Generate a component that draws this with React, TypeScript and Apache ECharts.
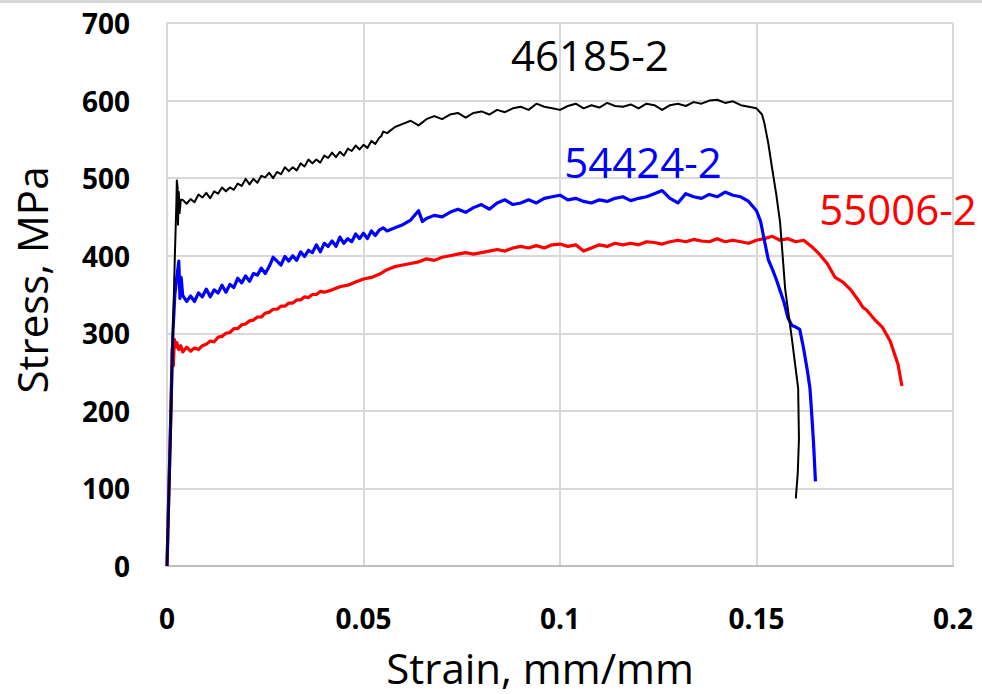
import React, { useEffect, useRef } from "react";
import * as echarts from "echarts";

const xTickLabels = ["0", "0.05", "0.1", "0.15", "0.2"];
const yTickLabels = ["0", "100", "200", "300", "400", "500", "600", "700"];

const seriesNames = ["55006-2", "54424-2", "46185-2"];
const seriesColors = ["#ff0000", "#0000ff", "#000000"];
const seriesWidths = [3.2, 3.2, 2];

// label anchors (strain, stress)
const labelStrain = [0.186, 0.1211, 0.1076];
const labelStress = [461, 521, 659];

const red55006: [number, number][] = [
  [0, 0], [0.0005, 100], [0.001, 200], [0.0013, 280], [0.0016, 258], [0.0019, 292], [0.0022, 282],
  [0.0025, 288], [0.003, 279], [0.0035, 284], [0.004, 276], [0.005, 282], [0.006, 277], [0.007, 281],
  [0.008, 279], [0.009, 284], [0.01, 286], [0.011, 290], [0.012, 289], [0.013, 295], [0.014, 296],
  [0.015, 300], [0.016, 301], [0.017, 306], [0.018, 306], [0.019, 311], [0.02, 312], [0.021, 316],
  [0.022, 317], [0.023, 321], [0.024, 321], [0.025, 326], [0.026, 327], [0.027, 331], [0.028, 331],
  [0.029, 335], [0.03, 335], [0.031, 339], [0.032, 339], [0.033, 343], [0.034, 343], [0.035, 347],
  [0.036, 346], [0.037, 350], [0.038, 350], [0.039, 354], [0.04, 353], [0.042, 356], [0.044, 360],
  [0.046, 362], [0.048, 366], [0.05, 370], [0.052, 372], [0.054, 376], [0.056, 382], [0.058, 386],
  [0.06, 388], [0.062, 390], [0.064, 392], [0.066, 396], [0.068, 394], [0.07, 398], [0.072, 400],
  [0.074, 402], [0.076, 404], [0.078, 402], [0.08, 404], [0.082, 406], [0.084, 408], [0.086, 406],
  [0.088, 410], [0.09, 412], [0.092, 410], [0.094, 413], [0.096, 410], [0.098, 414], [0.1, 415],
  [0.102, 412], [0.104, 414], [0.106, 406], [0.108, 410], [0.11, 414], [0.112, 412], [0.114, 416],
  [0.116, 414], [0.118, 416], [0.12, 414], [0.122, 418], [0.124, 417], [0.126, 415], [0.128, 418],
  [0.13, 420], [0.132, 418], [0.134, 421], [0.136, 419], [0.138, 418], [0.14, 422], [0.142, 418],
  [0.144, 420], [0.146, 418], [0.148, 416], [0.15, 420], [0.152, 422], [0.154, 425], [0.156, 420],
  [0.158, 422], [0.16, 418], [0.162, 420], [0.164, 412], [0.166, 402], [0.168, 390], [0.17, 372],
  [0.172, 366], [0.174, 356], [0.176, 342], [0.177, 334], [0.178, 330], [0.18, 318], [0.182, 308],
  [0.184, 290], [0.186, 260], [0.187, 232],
];

const blue54424: [number, number][] = [
  [0, 0], [0.0005, 100], [0.001, 200], [0.0015, 300], [0.002, 350], [0.0025, 372], [0.003, 393],
  [0.0033, 345], [0.0036, 372], [0.004, 349], [0.005, 341], [0.006, 348], [0.007, 341], [0.008, 352],
  [0.009, 347], [0.01, 357], [0.011, 347], [0.012, 356], [0.013, 352], [0.014, 362], [0.015, 353],
  [0.016, 363], [0.017, 359], [0.018, 371], [0.019, 365], [0.02, 374], [0.021, 367], [0.022, 377],
  [0.023, 375], [0.024, 384], [0.025, 377], [0.026, 386], [0.027, 398], [0.028, 393], [0.029, 388],
  [0.03, 399], [0.031, 393], [0.032, 400], [0.033, 394], [0.034, 405], [0.035, 399], [0.036, 407],
  [0.037, 404], [0.038, 414], [0.039, 405], [0.04, 416], [0.041, 412], [0.042, 419], [0.043, 412],
  [0.044, 424], [0.045, 416], [0.046, 422], [0.047, 418], [0.048, 428], [0.049, 422], [0.05, 429],
  [0.051, 422], [0.052, 432], [0.053, 426], [0.054, 433], [0.055, 436], [0.056, 432], [0.058, 436],
  [0.06, 440], [0.062, 446], [0.064, 458], [0.065, 444], [0.066, 448], [0.068, 452], [0.07, 450],
  [0.072, 456], [0.074, 460], [0.076, 456], [0.078, 462], [0.08, 466], [0.082, 460], [0.084, 468],
  [0.086, 472], [0.088, 466], [0.09, 468], [0.092, 472], [0.094, 468], [0.096, 474], [0.098, 476],
  [0.1, 478], [0.102, 472], [0.104, 474], [0.106, 470], [0.108, 468], [0.11, 472], [0.112, 470],
  [0.114, 474], [0.116, 476], [0.118, 471], [0.12, 474], [0.122, 476], [0.124, 480], [0.126, 484],
  [0.128, 474], [0.13, 468], [0.132, 480], [0.134, 476], [0.136, 474], [0.138, 479], [0.14, 476],
  [0.142, 482], [0.144, 478], [0.146, 476], [0.148, 470], [0.15, 458], [0.151, 445], [0.152, 420],
  [0.153, 395], [0.154, 383], [0.155, 370], [0.156, 355], [0.157, 340], [0.158, 320], [0.159, 310],
  [0.16, 308], [0.161, 305], [0.162, 280], [0.163, 250], [0.1636, 229], [0.164, 200], [0.1645, 160],
  [0.165, 109],
];

const black46185: [number, number][] = [
  [0, 0], [0.0008, 150], [0.0015, 300], [0.002, 400], [0.0024, 470], [0.0025, 497], [0.0027, 488],
  [0.0028, 440], [0.003, 482], [0.0032, 455], [0.0035, 472], [0.004, 472], [0.005, 467], [0.006, 473],
  [0.007, 469], [0.008, 479], [0.009, 475], [0.01, 481], [0.011, 474], [0.012, 483], [0.013, 480],
  [0.014, 488], [0.015, 483], [0.016, 488], [0.017, 485], [0.018, 493], [0.019, 490], [0.02, 499],
  [0.021, 492], [0.022, 499], [0.023, 494], [0.024, 503], [0.025, 501], [0.026, 507], [0.027, 500],
  [0.028, 508], [0.029, 505], [0.03, 514], [0.031, 509], [0.032, 514], [0.033, 510], [0.034, 519],
  [0.035, 515], [0.036, 524], [0.037, 519], [0.038, 524], [0.039, 520], [0.04, 529], [0.041, 526],
  [0.042, 533], [0.043, 527], [0.044, 534], [0.045, 529], [0.046, 538], [0.047, 535], [0.048, 542],
  [0.049, 537], [0.05, 543], [0.051, 539], [0.052, 548], [0.053, 544], [0.054, 552], [0.0545, 554],
  [0.055, 560], [0.056, 558], [0.058, 566], [0.06, 570], [0.062, 574], [0.064, 568], [0.066, 576],
  [0.068, 580], [0.07, 576], [0.072, 582], [0.074, 584], [0.076, 578], [0.078, 584], [0.08, 586],
  [0.082, 582], [0.084, 588], [0.086, 585], [0.088, 590], [0.09, 592], [0.092, 588], [0.094, 596],
  [0.096, 592], [0.098, 590], [0.1, 588], [0.102, 593], [0.104, 596], [0.106, 590], [0.108, 594],
  [0.11, 591], [0.112, 597], [0.114, 593], [0.116, 592], [0.118, 595], [0.12, 590], [0.122, 596],
  [0.124, 594], [0.126, 588], [0.128, 594], [0.13, 596], [0.132, 593], [0.134, 598], [0.136, 596],
  [0.138, 600], [0.14, 601], [0.142, 597], [0.144, 599], [0.146, 594], [0.148, 592], [0.15, 590],
  [0.1514, 582], [0.152, 571], [0.153, 545], [0.1539, 515], [0.155, 480], [0.156, 443],
  [0.1573, 357], [0.159, 293], [0.1606, 229], [0.1608, 164], [0.1605, 120], [0.16, 87],
];

const seriesData = [red55006, blue54424, black46185];

const FONT = "'Open Sans', 'DejaVu Sans', sans-serif";

export default function App() {
  const ref = useRef<HTMLDivElement>(null);
  useEffect(() => {
    if (!ref.current) return;
    const chart = echarts.init(ref.current, null, { renderer: "svg" });
    const lineSeries = seriesData.map((d, i) => ({
      name: seriesNames[i],
      type: "line",
      data: d,
      showSymbol: false,
      symbol: "none",
      lineStyle: { color: seriesColors[i], width: seriesWidths[i], join: "round" },
      z: 2 + i,
      silent: true,
    }));
    const labelSeries = {
      type: "scatter",
      symbolSize: 0,
      silent: true,
      z: 10,
      itemStyle: { opacity: 0 },
      data: seriesNames.map((n, i) => ({
        value: [labelStrain[i], labelStress[i]],
        label: {
          show: true,
          position: "inside",
          formatter: n,
          color: seriesColors[i],
          textBorderWidth: 0,
          textBorderColor: "transparent",
          opacity: 1,
          fontFamily: FONT,
          fontSize: 42,
        },
      })),
    };
    chart.setOption({
      animation: false,
      backgroundColor: "#ffffff",
      grid: { left: 167, right: 29, top: 23, bottom: 126 },
      xAxis: {
        type: "value",
        min: 0,
        max: 0.2,
        interval: 0.05,
        name: "Strain, mm/mm",
        nameLocation: "middle",
        nameGap: 79,
        nameTextStyle: {
          fontFamily: FONT,
          fontSize: 42,
          lineHeight: 44,
          color: "#000",
          padding: [0, 40, 0, 0],
        },
        axisLine: { show: true, lineStyle: { color: "#bfbfbf", width: 2 } },
        axisTick: { show: false },
        axisLabel: {
          fontFamily: FONT,
          fontSize: 28,
          fontWeight: "bold",
          color: "#000",
          margin: 38,
          formatter: (v: number) => {
            const idx = Math.round(v / 0.05);
            return xTickLabels[idx] ?? "";
          },
        },
        splitLine: { show: true, lineStyle: { color: "#d9d9d9", width: 2 } },
      },
      yAxis: {
        type: "value",
        min: 0,
        max: 700,
        interval: 100,
        axisLine: { show: true, lineStyle: { color: "#d9d9d9", width: 2 } },
        axisTick: { show: false },
        axisLabel: {
          fontFamily: FONT,
          fontSize: 28,
          fontWeight: "bold",
          color: "#000",
          margin: 37,
          formatter: (v: number) => yTickLabels[Math.round(v / 100)] ?? "",
        },
        splitLine: { show: true, lineStyle: { color: "#d9d9d9", width: 2 } },
      },
      graphic: [
        {
          type: "rect",
          shape: { x: 0, y: 0, width: 982, height: 3 },
          style: { fill: "#d9d9d9" },
          silent: true,
        },
        {
          type: "text",
          x: 31,
          y: 280,
          rotation: Math.PI / 2,
          style: {
            text: "Stress, MPa",
            font: `42px ${FONT}`,
            fill: "#000",
            align: "center",
            verticalAlign: "middle",
          },
          silent: true,
        },
      ],
      series: [...lineSeries, labelSeries],
    });
    return () => chart.dispose();
  }, []);
  return (
    <div
      ref={ref}
      style={{ position: "fixed", left: 0, top: 0, width: 982, height: 694 }}
    />
  );
}
